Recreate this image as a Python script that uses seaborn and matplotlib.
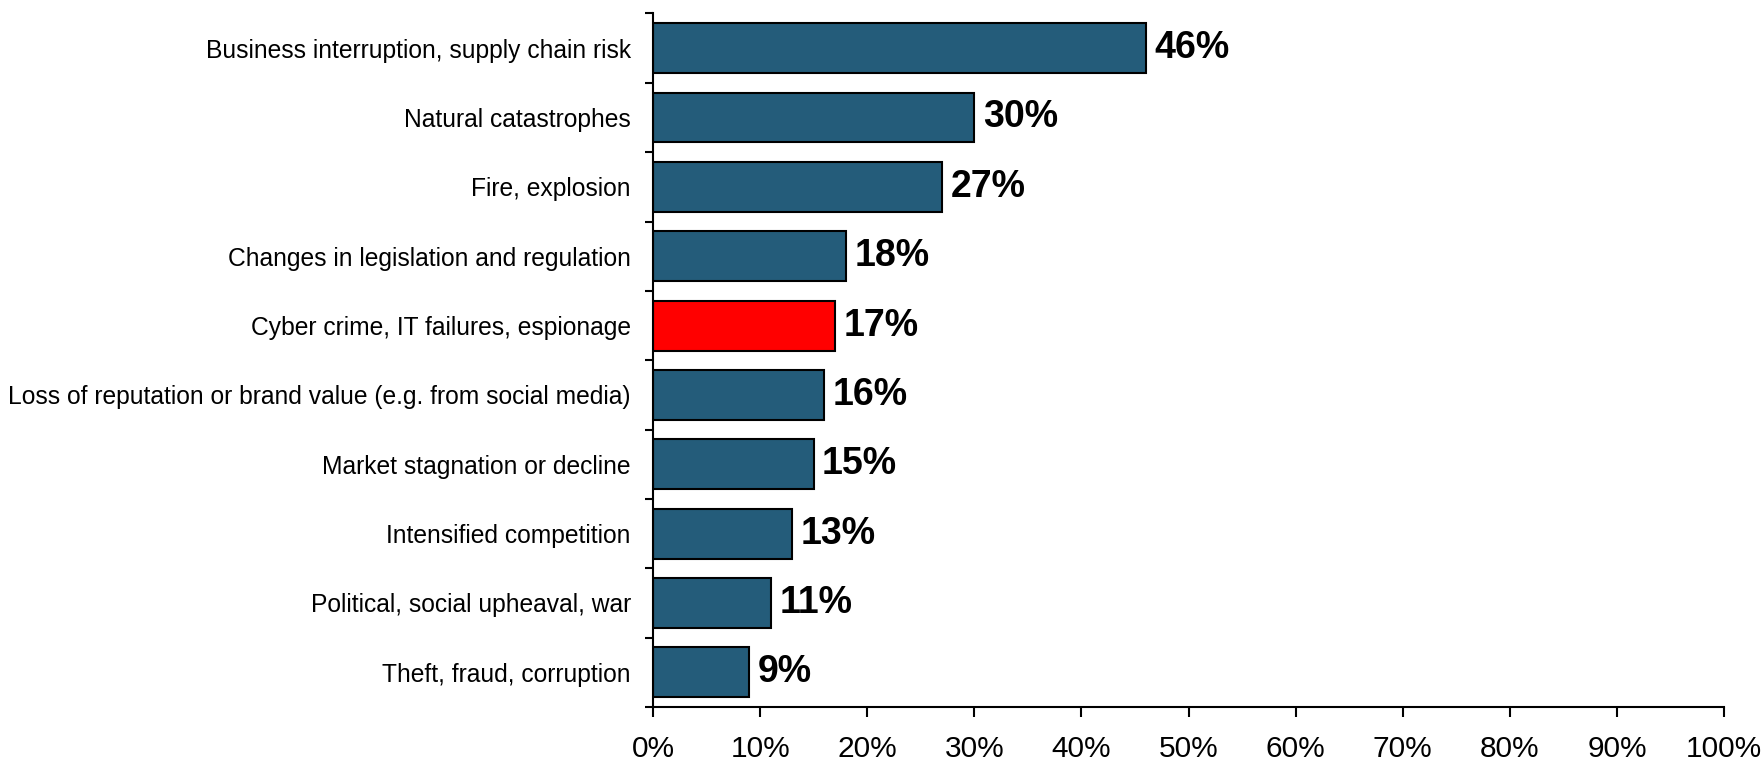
import matplotlib
matplotlib.use("Agg")
import matplotlib.pyplot as plt
import seaborn as sns
import numpy as np
from matplotlib.ticker import FixedLocator, PercentFormatter

categories = [
    "Business interruption, supply chain risk",
    "Natural catastrophes",
    "Fire, explosion",
    "Changes in legislation and regulation",
    "Cyber crime, IT failures, espionage",
    "Loss of reputation or brand value (e.g. from social media)",
    "Market stagnation or decline",
    "Intensified competition",
    "Political, social upheaval, war",
    "Theft, fraud, corruption",
]
values = [46, 30, 27, 18, 17, 16, 15, 13, 11, 9]
highlight = "Cyber crime, IT failures, espionage"
x_ticks = [0, 10, 20, 30, 40, 50, 60, 70, 80, 90, 100]

BLUE = "#245C7A"
RED = "#FF0000"

sns.set_theme(style="white")
plt.rcParams["font.family"] = ["Liberation Sans", "DejaVu Sans"]

fig = plt.figure(figsize=(17.65, 7.65), dpi=100)
ax = fig.add_axes([0.370, 0.0758, 0.9768 - 0.370, 0.9824 - 0.0758])

palette = {c: (RED if c == highlight else BLUE) for c in categories}
sns.barplot(x=values, y=categories, hue=categories, palette=palette,
            legend=False, width=0.72, edgecolor="black", linewidth=1.5,
            saturation=1, ax=ax)

for cont in ax.containers:
    ax.bar_label(cont, labels=[f"{v:g}%" for v in cont.datavalues],
                 padding=6, fontsize=27, fontweight="bold", color="black")

ax.set_xlim(0, 100)
ax.set_ylim(len(categories) - 0.5, -0.5)
ax.set_xticks(x_ticks)
ax.xaxis.set_major_formatter(PercentFormatter(decimals=0))
ax.tick_params(axis="x", which="major", direction="out", length=7, width=1.5,
               color="black", labelcolor="black", labelsize=21.5, pad=13, bottom=True)
ax.tick_params(axis="y", which="major", length=0, labelsize=17.7, pad=16,
               labelcolor="black", left=False)
ax.yaxis.set_minor_locator(FixedLocator(np.arange(-0.5, len(categories), 1.0)))
ax.tick_params(axis="y", which="minor", direction="out", length=6, width=1.5,
               color="black", left=True)
ax.set_xlabel("")
ax.set_ylabel("")
for s in ["top", "right"]:
    ax.spines[s].set_visible(False)
for s in ["left", "bottom"]:
    ax.spines[s].set_color("black")
    ax.spines[s].set_linewidth(1.5)
ax.grid(False)

fig.savefig("out.png", dpi=100)
